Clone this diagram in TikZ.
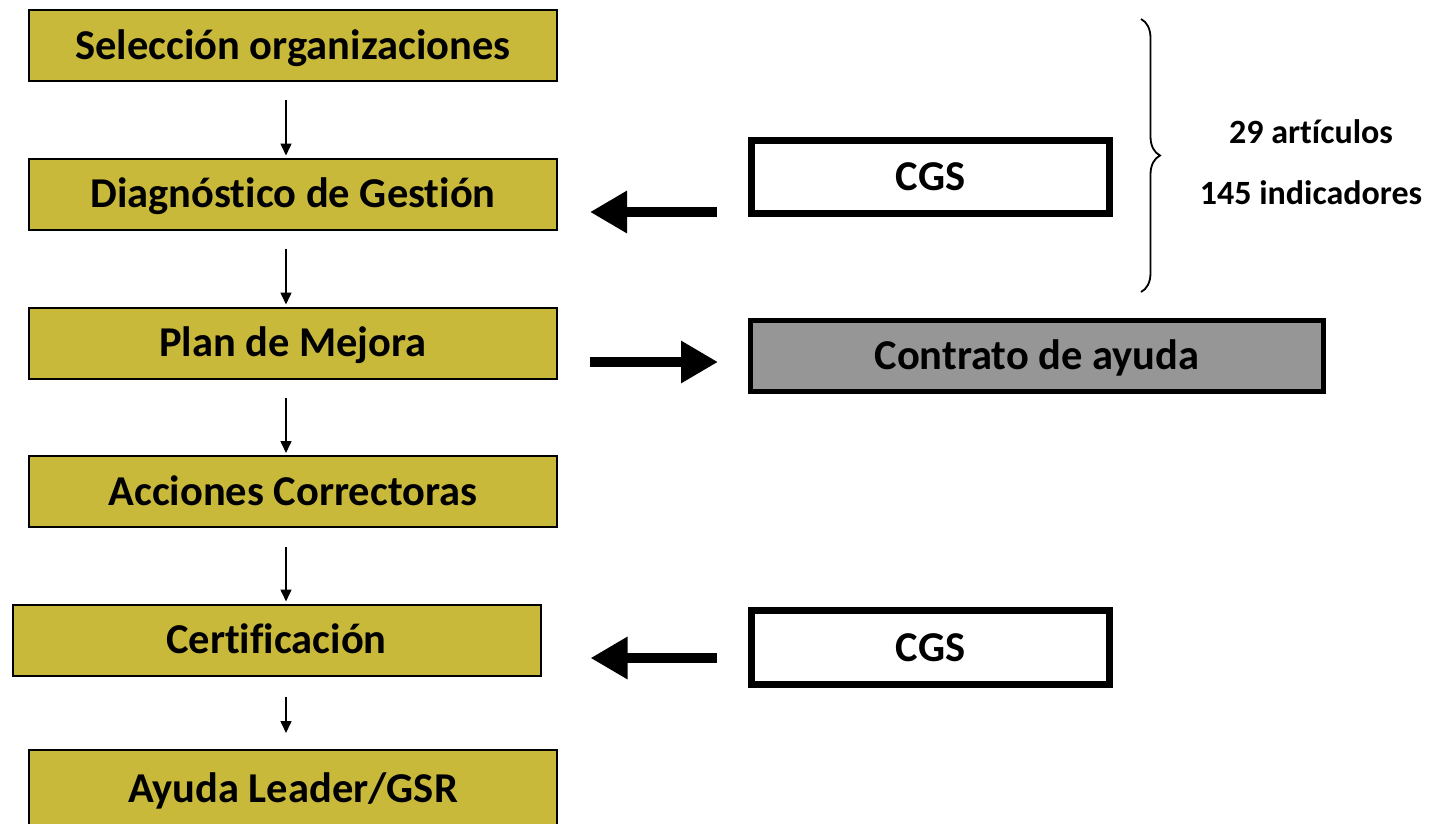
\documentclass[tikz,border=0pt]{standalone}
\usepackage{fontspec}
\setmainfont[Ligatures={NoCommon}]{Carlito}
\usetikzlibrary{arrows.meta,decorations.pathreplacing,calc}
\definecolor{boxgold}{RGB}{201,185,58}
\definecolor{boxgrey}{RGB}{150,150,150}
\begin{document}
\begin{tikzpicture}[x=1pt,y=-1pt,
  stage/.style={draw=black, line width=2pt, fill=boxgold, minimum width=528pt, minimum height=71pt, inner sep=0pt, text height=27pt, text depth=0pt, font=\bfseries\fontsize{42.5}{46}\selectfont},
  sidebox/.style={draw=black, line width=7pt, fill=white, minimum width=358pt, minimum height=73pt, inner sep=0pt, text height=27pt, text depth=0pt, font=\bfseries\fontsize{42.5}{46}\selectfont},
  flow/.style={-{Triangle[length=12pt,width=11pt]}, line width=1.5pt},
  fat/.style={-{Triangle[length=37pt,width=40pt]}, line width=10pt},
  note/.style={inner sep=0pt, text height=22pt, text depth=0pt, font=\bfseries\fontsize{34}{38}\selectfont}
]
\useasboundingbox (0,0) rectangle (1433,823);
\node[stage] (s1) at (293,45.5) {Selección organizaciones};
\node[stage] (s2) at (293,194) {Diagnóstico de Gestión};
\node[stage] (s3) at (293,343) {Plan de Mejora};
\node[stage] (s4) at (293,491.5) {Acciones Correctoras};
\node[stage] (s5) at (276.5,640) {Certificación};
\node[stage, minimum height=78pt] (s6) at (293,789) {Ayuda Leader/GSR};

\node[sidebox] (cgs1) at (930.5,177) {CGS};
\node[sidebox, minimum height=74pt] (cgs2) at (930.5,647.5) {CGS};
\node[sidebox, line width=5pt, fill=boxgrey, minimum width=573pt, minimum height=71pt] (contrato) at (1037,356) {Contrato de ayuda};

\draw[flow] ([xshift=-7pt,yshift=-18pt]s1.south) -- ([xshift=-7pt,yshift=2pt]s2.north);
\draw[flow] ([xshift=-7pt,yshift=-18pt]s2.south) -- ([xshift=-7pt,yshift=2pt]s3.north);
\draw[flow] ([xshift=-7pt,yshift=-18pt]s3.south) -- ([xshift=-7pt,yshift=2pt]s4.north);
\draw[flow] ([xshift=-7pt,yshift=-19pt]s4.south) -- ([xshift=9.5pt,yshift=2pt]s5.north);
\draw[flow] ([xshift=9.5pt,yshift=-20pt]s5.south) -- ([xshift=-7pt,yshift=16pt]s6.north);

\draw[fat] ([xshift=-31pt,yshift=-35pt]cgs1.west) -- ([xshift=32pt,yshift=-18pt]s2.east);
\draw[fat] ([xshift=32pt,yshift=-19pt]s3.east) -- ([xshift=-30pt,yshift=-6pt]contrato.west);
\draw[fat] ([xshift=-31pt,yshift=-10.5pt]cgs2.west) -- ([xshift=49pt,yshift=-18pt]s5.east);

\draw[decorate, decoration={brace, amplitude=19pt}, line width=1.8pt] (1141,19) -- (1141,292);
\node[note] (n1) at (1311,132) {29 artículos};
\node[note] (n2) at (1311,193) {145 indicadores};
\end{tikzpicture}
\end{document}
